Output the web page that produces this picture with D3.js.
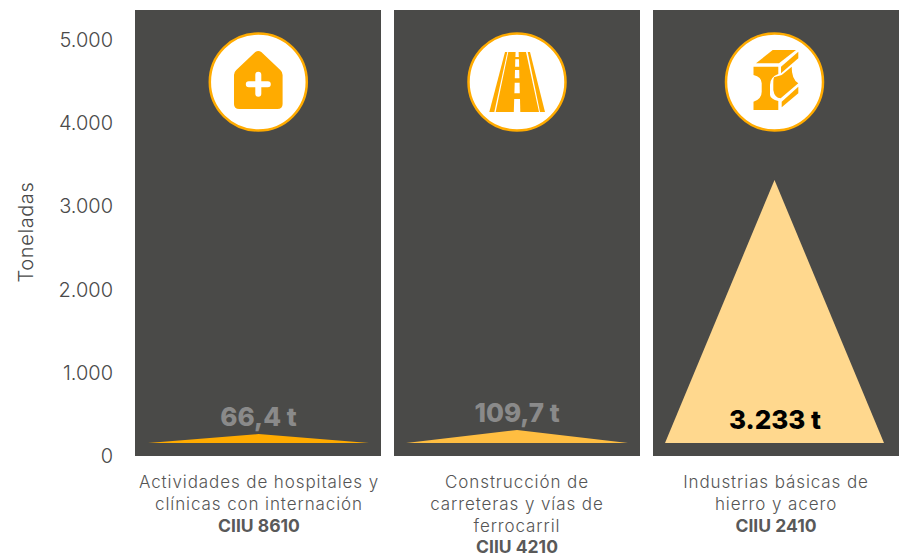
<!DOCTYPE html>
<html>
<head>
<meta charset="utf-8">
<title>Toneladas por actividad</title>
<script src="https://d3js.org/d3.v7.min.js"></script>
<style>
    html, body { margin: 0; padding: 0; background: #fff; }
    svg { display: block; }
    text { font-family: "Inter", "Open Sans", sans-serif; }
    .tick text { font-size: 20px; fill: #4a4a4a; font-weight: 300; }
    .ylabel { font-size: 20px; fill: #4a4a4a; font-weight: 300; letter-spacing: 0.6px; }
    .cat { font-size: 17px; fill: #555; font-weight: 300; letter-spacing: 0.9px; }
    .code { font-size: 17.5px; fill: #595959; font-weight: 700; }
    .val { font-size: 26px; font-weight: 800; }
</style>
</head>
<body>
<svg id="chart" width="907" height="557"></svg>
<script>
// data
var categories = ["Actividades de hospitales y clínicas con internación", "Construcción de carreteras y vías de ferrocarril", "Industrias básicas de hierro y acero"];
var catLines = [["Actividades de hospitales y", "clínicas con internación"], ["Construcción de", "carreteras y vías de", "ferrocarril"], ["Industrias básicas de", "hierro y acero"]];
var codes = ["CIIU 8610", "CIIU 4210", "CIIU 2410"];
var valueLabels = ["66,4 t", "109,7 t", "3.233 t"];
// tip of each triangle, and the triangle base, in axis units
var peaks = [264, 312, 3317];
var baseValue = 156;
var colors = ["#ffab00", "#ffbe41", "#ffd88e"];
var labelColors = ["#8a8a8a", "#8a8a8a", "#000000"];
var yTicks = [0, 1000, 2000, 3000, 4000, 5000];
var icons = ["hospital", "road", "steel"];

var svg = d3.select("#chart");

var x = d3.scaleBand().domain(categories).range([135, 899]).paddingInner(13 / 259).paddingOuter(0);
var y = d3.scaleLinear().domain([0, 5000]).range([456, 40]);
var fmt = function(d) { return d3.format(",")(d).replace(/,/g, "."); };

// y axis
var yAxis = svg.append("g")
    .attr("transform", "translate(113,0)")
    .call(d3.axisLeft(y).tickValues(yTicks).tickFormat(fmt).tickSize(0).tickPadding(0));
yAxis.select(".domain").remove();

svg.append("text")
    .attr("class", "ylabel")
    .attr("transform", "translate(33,232) rotate(-90)")
    .attr("text-anchor", "middle")
    .text("Toneladas");

var panels = svg.selectAll("g.panel").data(categories).enter().append("g").attr("class", "panel");

panels.append("rect")
    .attr("x", function(d) { return x(d); })
    .attr("y", 10)
    .attr("width", x.bandwidth())
    .attr("height", 446)
    .attr("fill", "#4a4a48");

// triangles
var insetL = [13, 12, 12], insetR = [12, 12, 15];
panels.append("path")
    .attr("d", function(d, i) {
        var x0 = x(d) + insetL[i], x1 = x(d) + x.bandwidth() - insetR[i], xm = (x0 + x1) / 2;
        return d3.line()([[x0, y(baseValue)], [xm, y(peaks[i])], [x1, y(baseValue)]]) + "Z";
    })
    .attr("fill", function(d, i) { return colors[i]; });

// value labels
var valX = [258.5, 517, 775], valY = [426, 422, 429];
panels.append("text")
    .attr("class", "val")
    .attr("x", function(d, i) { return valX[i]; })
    .attr("y", function(d, i) { return valY[i]; })
    .attr("text-anchor", "middle")
    .attr("fill", function(d, i) { return labelColors[i]; })
    .text(function(d, i) { return valueLabels[i]; });

// category labels
var catX = [259, 517, 776];
panels.each(function(d, i) {
    var g = d3.select(this);
    catLines[i].forEach(function(line, j) {
        g.append("text").attr("class", "cat").attr("x", catX[i]).attr("y", 488 + j * 22)
            .attr("text-anchor", "middle").text(line);
    });
    g.append("text").attr("class", "code").attr("x", catX[i]).attr("y", 488 + catLines[i].length * 21.8)
        .attr("text-anchor", "middle").text(codes[i]);
});

// icons
var iconCx = [258.3, 517, 774.5];
var orange = "#ffab00";
panels.each(function(d, i) {
    var g = d3.select(this).append("g").attr("transform", "translate(" + iconCx[i] + ",82)");
    var shape = function(p, fill) { g.append("path").attr("fill", fill || orange).attr("d", p); };
    g.append("circle").attr("r", 48.5).attr("fill", "#fff").attr("stroke", orange).attr("stroke-width", 2.5);
    if (icons[i] === "hospital") {
        shape("M-3,-30 Q0,-32 3,-30 L22,-12 Q24.3,-10 24.3,-7 L24.3,22 Q24.3,27 19,27 L-19,27 Q-24.3,27 -24.3,22 L-24.3,-7 Q-24.3,-10 -22,-12 Z");
        g.append("path").attr("d", "M-9.5,2.3 H9.5 M0,-7.2 V11.8").attr("stroke", "#fff").attr("stroke-width", 6)
            .attr("stroke-linecap", "round").attr("fill", "none");
    } else if (icons[i] === "road") {
        shape("M-12,-30 H-9.7 L-22.7,30 H-27.7 Z");
        shape("M-8.7,-30 H9 L22,30 H-21.3 Z");
        shape("M10.7,-30 H13 L28,30 H23 Z");
        // centre dashes
        shape("M-1.4,-30 H1.6 L1.8,-25 H-1.6 Z", "#fff");
        shape("M-1.7,-22.7 H2 L2.2,-15.3 H-1.9 Z", "#fff");
        shape("M-2,-12 H2.2 L2.4,-3.7 H-2.2 Z", "#fff");
        shape("M-2.3,0.7 H2.6 L2.8,11.3 H-2.6 Z", "#fff");
        shape("M-2.8,17 H3 L3.3,30 H-3.2 Z", "#fff");
    } else {
        shape("M-18.5,-18.7 L-1.8,-32 H21.5 L4.5,-18.7 Z");
        shape("M-21,-15.3 H3.8 V-8 Q-4.5,-5 -4.5,3 V13 Q-4,17 3.8,19 V28 H-21 V19.7 Q-12.8,17 -12.8,9.7 V1.3 Q-12.8,-5 -21,-7 Z");
        shape("M6.5,-15.3 L23.8,-30.3 V-23.7 L6.5,-8.7 Z");
        shape("M-0.5,-4.7 L7.2,-7 L17.2,-15.3 Q17,-3 23.8,1.3 L6.2,16.3 Q0,16 -1.2,8 V1.3 Q-1.2,-3 -0.5,-4.7 Z");
        shape("M7.2,19.7 L23.8,4.7 V11.3 L7.2,25.3 Z");
    }
});
</script>
</body>
</html>
